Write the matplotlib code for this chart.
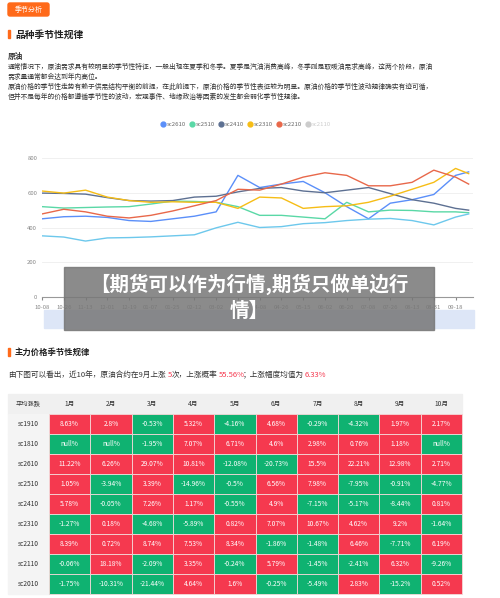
import matplotlib.pyplot as plt
from matplotlib.patches import Rectangle, FancyBboxPatch

plt.rcParams['font.family'] = ['Noto Sans CJK SC', 'DejaVu Sans']

# ---- line chart data (values read at each date tick) ----
dates = ['10-08', '10-26', '11-13', '12-01', '12-19', '01-07', '01-25', '02-12', '03-02', '03-20',
         '04-08', '04-26', '05-15', '06-02', '06-20', '07-08', '07-26', '08-13', '08-31', '09-18']
xs = list(range(20)) + [19.6]
sc2610 = [450, 462, 465, 458, 440, 435, 450, 465, 490, 700, 630, 650, 665, 600, 520, 450, 540, 560, 590, 700, 720]
sc2510 = [520, 512, 515, 518, 520, 535, 552, 550, 545, 520, 470, 470, 460, 450, 545, 490, 500, 498, 490, 490, 485]
sc2410 = [598, 596, 592, 572, 555, 552, 555, 575, 580, 605, 625, 630, 610, 600, 615, 630, 595, 560, 540, 510, 500]
sc2310 = [610, 598, 615, 575, 555, 545, 548, 545, 545, 510, 575, 570, 510, 520, 525, 545, 580, 620, 660, 740, 710]
sc2210 = [478, 505, 490, 465, 455, 470, 495, 525, 555, 620, 615, 650, 690, 715, 700, 640, 640, 660, 730, 690, 650]
sc2010 = [352, 345, 322, 340, 342, 346, 352, 358, 398, 430, 400, 405, 422, 428, 440, 448, 452, 440, 415, 460, 478]
series = [('sc2610', sc2610, '#5b8ff9'), ('sc2510', sc2510, '#5ad8a6'), ('sc2410', sc2410, '#5d7092'),
          ('sc2310', sc2310, '#f6bd16'), ('sc2210', sc2210, '#e8684a'), ('sc2010', sc2010, '#6dc8ec')]

# ---- table data ----
months = ['1月', '2月', '3月', '4月', '5月', '6月', '7月', '8月', '9月', '10月']
contracts = ['sc1910', 'sc1810', 'sc2610', 'sc2510', 'sc2410', 'sc2310', 'sc2210', 'sc2110', 'sc2010']
changes = [
    [8.63, 2.8, -0.53, 5.32, -4.16, 4.68, -0.29, -4.32, 1.97, 2.17],
    [None, None, -1.95, 7.07, 6.71, 4.6, 2.98, 0.76, 1.18, None],
    [11.22, 6.26, 29.07, 10.81, -12.08, -20.73, 15.5, 22.21, 12.98, 2.71],
    [1.05, -3.94, 3.39, -14.96, -0.5, 6.56, 7.98, -7.95, -0.91, -4.77],
    [5.78, -0.05, 7.26, 1.17, -0.55, 4.9, -7.15, -5.17, -8.44, 0.81],
    [-1.27, 0.18, -4.68, -5.89, 0.82, 7.07, 10.67, 4.62, 9.2, -1.64],
    [8.39, 0.72, 8.74, 7.53, 8.34, -1.86, -1.48, 6.46, -7.71, 6.19],
    [-0.06, 18.18, -2.09, 3.35, -0.24, 5.79, -1.45, -2.41, 6.32, -9.26],
    [-1.75, -10.31, -21.44, 4.64, 1.6, -0.25, -5.49, 2.83, -15.2, 0.52],
]

W, H = 500, 598
fig = plt.figure(figsize=(5, 5.98), dpi=100)
bg = fig.add_axes([0, 0, 1, 1])
bg.set_xlim(0, W)
bg.set_ylim(H, 0)
bg.axis('off')

# header button and titles
bg.add_patch(FancyBboxPatch((8, 3), 41, 13, boxstyle='round,pad=0,rounding_size=2', color='#ff6a1a'))
bg.text(28.5, 10, '季节分析', color='white', fontsize=5, ha='center', va='center')
bg.add_patch(Rectangle((8, 30), 2, 8, color='#ff6a1a'))
bg.text(15, 34.5, '品种季节性规律', fontsize=7, weight='bold', ha='left', va='center', color='#222')
bg.text(8, 57, '原油', fontsize=5.5, weight='bold', va='center', color='#333')
lines_txt = ['通常情况下，原油需求具有较明显的季节性特征，一般出现在夏季和冬季。夏季是汽油消费高峰，冬季则是取暖油需求高峰，这两个阶段，原油',
             '需求量通常都会达到年内高位。',
             '原油价格的季节性走势有赖于供需结构平衡的前提，在此前提下，原油价格的季节性表征较为明显。原油价格的季节性波动规律确实有迹可循，',
             '但并不是每年的价格都遵循季节性的波动，宏观事件、地缘政治等因素的发生都会弱化季节性规律。']
for i, t in enumerate(lines_txt):
    bg.text(8, 67 + i * 10, t, fontsize=4.9, va='center', color='#333')

# legend row
lx = 163
for name, _, c in series[:5] + [('sc2110', None, '#cccccc')]:
    bg.plot(lx, 124, 'o', color=c, ms=3.5)
    bg.text(lx + 4, 124, name, fontsize=4.3, va='center', color='#666' if c != '#cccccc' else '#ccc')
    lx += 29

# line chart axes
ax = fig.add_axes([42 / W, 1 - 297 / H, (473 - 42) / W, (297 - 158) / H])
for name, vals, c in series:
    ax.plot(xs, vals, color=c, lw=1)
ax.set_xlim(0, 19.8)
ax.set_ylim(0, 800)
ax.set_yticks([0, 200, 400, 600, 800])
ax.set_xticks(range(20))
ax.set_xticklabels(dates)
ax.tick_params(labelsize=4.3, colors='#888', length=2)
ax.tick_params(axis='y', length=0)
ax.grid(axis='y', color='#eeeeee', lw=0.6)
for s in ['top', 'right', 'left']:
    ax.spines[s].set_visible(False)
ax.spines['bottom'].set_color('#999')

# top overlay layer
top = fig.add_axes([0, 0, 1, 1])
top.set_xlim(0, W)
top.set_ylim(H, 0)
top.axis('off')
top.patch.set_alpha(0)

# zoom slider
top.add_patch(Rectangle((44, 310), 430, 18, color='#dde6f7'))

# overlay title band
top.add_patch(Rectangle((64, 267), 370, 63, color='#777777', alpha=0.85))
top.text(249, 284, '【期货可以作为行情,期货只做单边行', fontsize=14, weight='bold', color='white', ha='center', va='center')
top.text(249, 311, '情】', fontsize=14, weight='bold', color='white', ha='center', va='center')

# second section
bg.add_patch(Rectangle((8, 348), 2, 8, color='#ff6a1a'))
bg.text(15, 352, '主力价格季节性规律', fontsize=6, weight='bold', va='center', color='#222')
fs = 5.5
bg.text(8, 375, '由下图可以看出，近10年，原油合约在9月上涨', fontsize=fs, va='center', color='#333')
bg.text(167.5, 375, '5', fontsize=fs, va='center', color='#f5394f')
bg.text(172, 375, '次，上涨概率', fontsize=fs, va='center', color='#333')
bg.text(218.5, 375, '55.56%', fontsize=fs, va='center', color='#f5394f')
bg.text(243, 375, '；上涨幅度均值为', fontsize=fs, va='center', color='#333')
bg.text(305, 375, '6.33%', fontsize=fs, va='center', color='#f5394f')

# table
x0, xl, cw = 8, 49, 41.3
y0, rh = 394, 20
bg.add_patch(Rectangle((x0, y0), xl + cw * 10 - x0, rh, color='#f0f0f0'))
bg.text((x0 + xl) / 2, y0 + rh / 2, '平均涨跌', fontsize=4.5, ha='center', va='center', color='#333')
for j, m in enumerate(months):
    bg.text(xl + cw * (j + 0.5), y0 + rh / 2, m, fontsize=4.8, ha='center', va='center', color='#333')
for i, c in enumerate(contracts):
    y = y0 + rh * (i + 1)
    bg.add_patch(Rectangle((x0, y), xl - x0, rh, color='#f4f4f4'))
    bg.text((x0 + xl) / 2, y + rh / 2, c, fontsize=4.8, ha='center', va='center', color='#333')
    for j, v in enumerate(changes[i]):
        col = '#f5394f' if (v is not None and v > 0) else '#0fb271'
        bg.add_patch(Rectangle((xl + cw * j, y), cw, rh, facecolor=col, edgecolor='#f4d8d8', lw=0.6))
        txt = 'null%' if v is None else f'{v:g}%'
        bg.text(xl + cw * (j + 0.5), y + rh / 2, txt, fontsize=4.8, ha='center', va='center', color='white')

fig.savefig('out.png', dpi=100)
